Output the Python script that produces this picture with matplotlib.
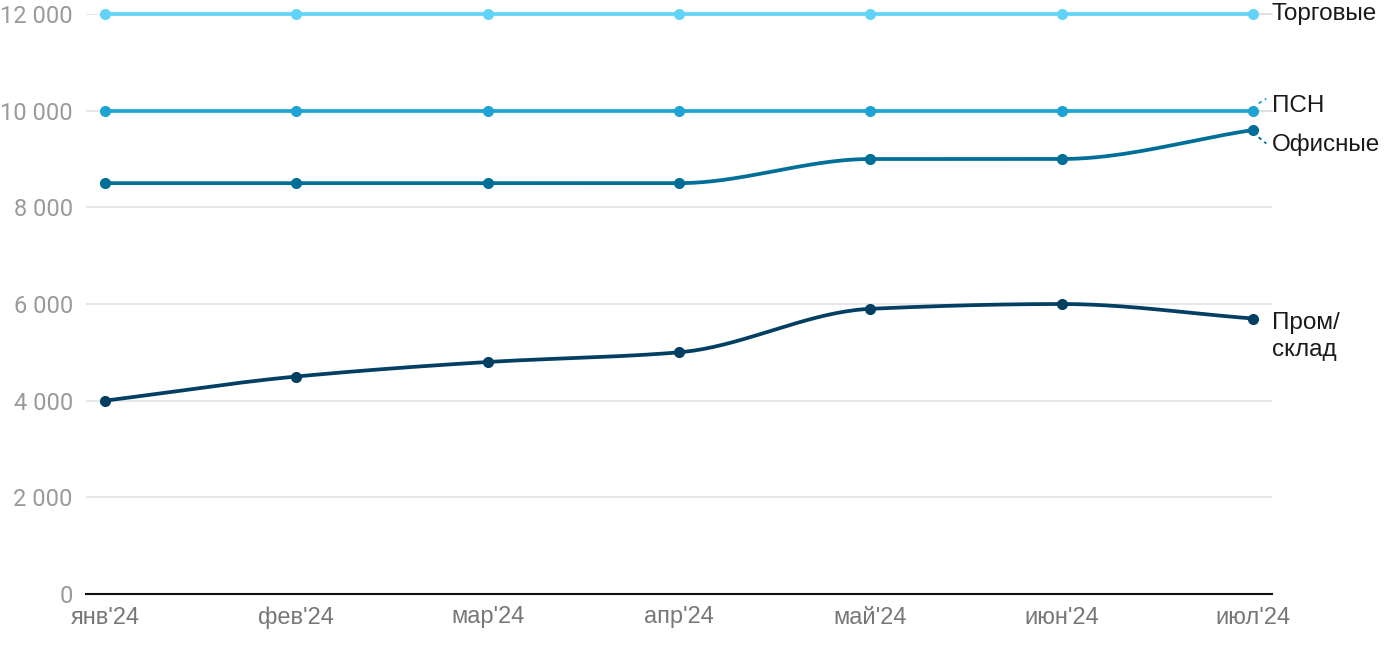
import numpy as np
import matplotlib.pyplot as plt

months = ["янв'24", "фев'24", "мар'24", "апр'24", "май'24", "июн'24", "июл'24"]
torgovye = [12000, 12000, 12000, 12000, 12000, 12000, 12000]
psn = [10000, 10000, 10000, 10000, 10000, 10000, 10000]
ofisnye = [8500, 8500, 8500, 8500, 9000, 9000, 9600]
prom_sklad = [4000, 4500, 4800, 5000, 5900, 6000, 5700]

series = [
    ("Торговые", torgovye, "#62d3f7"),
    ("ПСН", psn, "#1ea3d2"),
    ("Офисные", ofisnye, "#006f98"),
    ("Пром/\nсклад", prom_sklad, "#023f62"),
]


def monotone_curve(x, y, n=40):
    """Monotone cubic (Fritsch-Carlson) through the points, like d3 curveMonotoneX."""
    x = np.asarray(x, float)
    y = np.asarray(y, float)
    h = np.diff(x)
    d = np.diff(y) / h
    m = np.zeros_like(y)
    m[0], m[-1] = d[0], d[-1]
    for i in range(1, len(y) - 1):
        if d[i - 1] * d[i] <= 0:
            m[i] = 0
        else:
            m[i] = 2 / (1 / d[i - 1] + 1 / d[i])
    xs, ys = [], []
    for i in range(len(h)):
        t = np.linspace(0, 1, n)
        h00 = 2 * t**3 - 3 * t**2 + 1
        h10 = t**3 - 2 * t**2 + t
        h01 = -2 * t**3 + 3 * t**2
        h11 = t**3 - t**2
        xs.append(x[i] + t * h[i])
        ys.append(h00 * y[i] + h10 * h[i] * m[i] + h01 * y[i + 1] + h11 * h[i] * m[i + 1])
    return np.concatenate(xs), np.concatenate(ys)


plt.rcParams['font.family'] = ['Roboto', 'DejaVu Sans']
label_font = ['Liberation Sans', 'DejaVu Sans']

fig = plt.figure(figsize=(14, 6.5), dpi=100)
ax = fig.add_axes([86 / 1400, 56 / 650, (1272 - 86) / 1400, (594 - 14) / 650])

xi = np.arange(len(months))
for name, vals, color in series:
    cx, cy = monotone_curve(xi, vals)
    ax.plot(cx, cy, color=color, lw=2.7, solid_capstyle='round', clip_on=False, zorder=3)
    ax.plot(xi, vals, 'o', color=color, ms=7, clip_on=False, zorder=4)

ax.set_xlim(-0.1, 6.1)
ax.set_ylim(0, 12000)
ax.set_yticks(np.arange(0, 12001, 2000))
ax.set_yticklabels([f"{v:,}".replace(",", " ") for v in range(0, 12001, 2000)])
ax.set_xticks(xi)
ax.set_xticklabels(months, family=label_font)
ax.grid(axis='y', color='#e3e3e3', lw=1.2)
ax.set_axisbelow(True)
for s in ['top', 'right', 'left']:
    ax.spines[s].set_visible(False)
ax.spines['bottom'].set_color('#111111')
ax.spines['bottom'].set_linewidth(1.5)
ax.tick_params(axis='y', length=0, pad=9.5, labelsize=17, labelcolor='#9a9a9a')
ax.tick_params(axis='x', length=0, pad=9, labelsize=17, labelcolor='#777777')

# labels on the right
lx = 6.1
lbl = dict(fontsize=17.5, color='#1a1a1a', va='center', ha='left', family=label_font)
ax.plot([6.0, lx], [12000, 12000], color='#dddddd', lw=1.2, zorder=2, clip_on=False)
ax.plot([6.0, lx], [10000, 10000], color='#dddddd', lw=1.2, zorder=2, clip_on=False)
ax.plot([6.03, 6.07], [10150, 10250], color="#1ea3d2", lw=1.3, ls=(0, (2, 2)), clip_on=False)
ax.plot([6.03, 6.07], [9450, 9320], color="#006f98", lw=1.3, ls=(0, (2, 2)), clip_on=False)
ax.text(lx, 12000, "Торговые", **lbl)
ax.text(lx, 10100, "ПСН", **lbl)
ax.text(lx, 9300, "Офисные", **lbl)
ax.text(lx, 5330, "Пром/\nсклад", linespacing=1.3, **lbl)

fig.savefig("out.png", dpi=100)
